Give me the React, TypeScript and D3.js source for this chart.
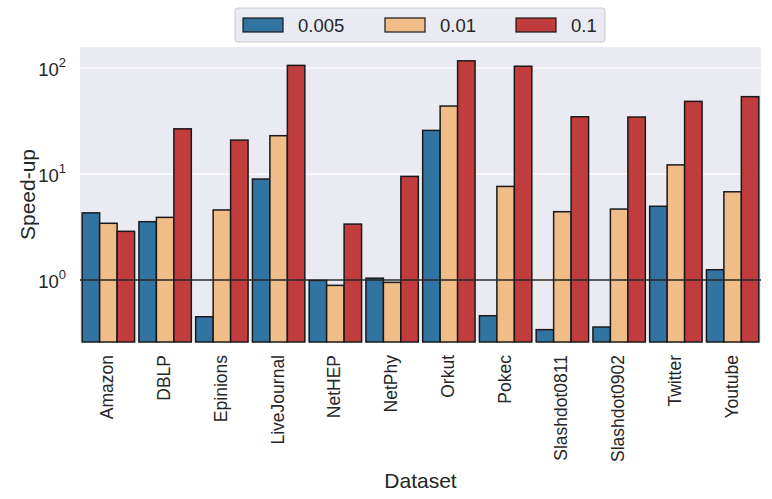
import { useEffect, useRef } from 'react';
import * as d3 from 'd3';

const datasets = ['Amazon', 'DBLP', 'Epinions', 'LiveJournal', 'NetHEP', 'NetPhy', 'Orkut', 'Pokec', 'Slashdot0811', 'Slashdot0902', 'Twitter', 'Youtube'];
const seriesNames = ['0.005', '0.01', '0.1'];
const s005 = [4.3, 3.55, 0.45, 8.97, 0.99, 1.04, 25.8, 0.46, 0.34, 0.36, 4.96, 1.25];
const s001 = [3.43, 3.9, 4.58, 23, 0.89, 0.95, 43.8, 7.64, 4.41, 4.67, 12.2, 6.8];
const s01 = [2.88, 26.7, 20.9, 106, 3.37, 9.5, 117, 104, 34.7, 34.5, 48.5, 53.7];
const yTicks = [1, 10, 100];
const colors = ['#3274a1', '#f0bc87', '#c13c3d'];

export default function App() {
  const ref = useRef<SVGSVGElement>(null);

  useEffect(() => {
    if (!ref.current) return;
    const svg = d3.select(ref.current);
    svg.selectAll('*').remove();

    const left = 80, right = 761, top = 47, bottom = 342;
    const font = 'Liberation Sans, Arial, sans-serif';
    const allSeries = [s005, s001, s01];

    const x = d3.scaleBand<string>().domain(datasets).range([left, right]).paddingInner(0).paddingOuter(0);
    const inner = d3.scaleBand<string>().domain(seriesNames).range([0, x.bandwidth()]).paddingInner(0).paddingOuter(0.125);
    const y = d3.scaleLog().domain([0.26, 158]).range([bottom, top]);

    svg.append('rect')
      .attr('x', left).attr('y', top)
      .attr('width', right - left).attr('height', bottom - top)
      .attr('fill', '#eaeaf2');

    // grid
    svg.append('g').selectAll('line').data(yTicks).enter().append('line')
      .attr('x1', left).attr('x2', right)
      .attr('y1', d => y(d)).attr('y2', d => y(d))
      .attr('stroke', '#ffffff').attr('stroke-width', 1.3);

    // bars
    allSeries.forEach((vals, si) => {
      svg.append('g').selectAll('rect').data(vals).enter().append('rect')
        .attr('x', (_, i) => (x(datasets[i]) as number) + (inner(seriesNames[si]) as number))
        .attr('width', inner.bandwidth())
        .attr('y', d => y(d))
        .attr('height', d => bottom - y(d))
        .attr('fill', colors[si])
        .attr('stroke', '#1a1a1a')
        .attr('stroke-width', 1.5);
    });

    // reference line at 1
    svg.append('line')
      .attr('x1', left).attr('x2', right)
      .attr('y1', y(1)).attr('y2', y(1))
      .attr('stroke', '#262626').attr('stroke-width', 1.7);

    // y tick labels
    const yt = svg.append('g').attr('font-family', font).attr('fill', '#262626');
    yTicks.forEach(t => {
      const txt = yt.append('text')
        .attr('x', 66).attr('y', y(t) + 8)
        .attr('text-anchor', 'end')
        .attr('font-size', 18.5);
      txt.append('tspan').text('10');
      txt.append('tspan').attr('font-size', 13).attr('dy', -9).text(String(Math.round(Math.log10(t))));
    });

    // x tick labels
    svg.append('g').selectAll('text').data(datasets).enter().append('text')
      .attr('transform', d => `translate(${(x(d) as number) + x.bandwidth() / 2 + 5},355) rotate(-90)`)
      .attr('text-anchor', 'end')
      .attr('font-family', font)
      .attr('font-size', 17.5)
      .attr('fill', '#262626')
      .text(d => d);

    // axis labels
    svg.append('text')
      .attr('x', (left + right) / 2).attr('y', 488)
      .attr('text-anchor', 'middle')
      .attr('font-family', font).attr('font-size', 21).attr('fill', '#262626')
      .text('Dataset');
    svg.append('text')
      .attr('transform', `translate(35,${(top + bottom) / 2}) rotate(-90)`)
      .attr('text-anchor', 'middle')
      .attr('font-family', font).attr('font-size', 21).attr('fill', '#262626')
      .text('Speed-up');

    // legend
    const lg = svg.append('g');
    lg.append('rect')
      .attr('x', 235).attr('y', 8).attr('width', 370).attr('height', 34).attr('rx', 3)
      .attr('fill', '#eaeaf2').attr('stroke', '#cccccc').attr('stroke-width', 1);
    const lx = [243, 385, 516];
    seriesNames.forEach((name, i) => {
      lg.append('rect')
        .attr('x', lx[i]).attr('y', 18).attr('width', 40).attr('height', 14)
        .attr('fill', colors[i]).attr('stroke', '#1a1a1a').attr('stroke-width', 1.2);
      lg.append('text')
        .attr('x', lx[i] + 55).attr('y', 32)
        .attr('font-family', font).attr('font-size', 18.5).attr('fill', '#262626')
        .text(name);
    });
  }, []);

  return (
    <div style={{ position: 'absolute', left: 0, top: 0 }}>
      <svg ref={ref} width={772} height={499} />
    </div>
  );
}
